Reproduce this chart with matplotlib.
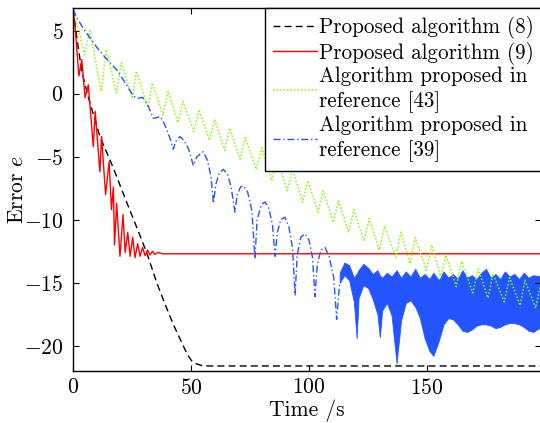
import numpy as np
import matplotlib
matplotlib.use("Agg")
import matplotlib.pyplot as plt

plt.rcParams.update({"font.family": "serif", "font.serif": ["cmr10"],
    "mathtext.fontset": "cm", "axes.formatter.use_mathtext": True,
    "font.size": 15.5, "axes.unicode_minus": True})

RED = "#FF0000"; BLUE = "#2255FF"; GREEN = "#7FFF00"

# proposed algorithm (8) - black dashed
t8 = [0, 1.8, 3.7, 6.5, 11.4, 17.1, 22.7, 27, 31.2, 35.5, 39, 42.5, 46.7, 48.5, 50.3, 52.5, 55.2, 198.3]
e8 = [6.7, 4.2, 1.8, -0.3, -3.4, -5.9, -8.6, -10.6, -12.6, -15.0, -16.7, -18.3, -20.0, -20.7, -21.2, -21.45, -21.6, -21.6]

# proposed algorithm (9) - red
t9 = [0, 0.8, 2.5, 3.7, 5.1, 6.5, 8.6, 9.4, 11.4, 12.1, 13.8, 15.3, 16.3, 17.1, 17.6, 18.5, 19.9, 21.2, 22.1,
      23.2, 24.2, 25.3, 26.3, 27.4, 28.4, 29.5, 30.5, 31.6, 32.6, 33.7, 34.7, 36, 38, 198.3]
e9 = [6.7, 5.5, 1.4, 2.7, -0.3, 0.7, -4.2, -1.4, -6.2, -3.4, -8.0, -5.4, -9.2, -7.4, -12.0, -8.7, -12.9, -9.6, -12.6,
      -11.0, -12.9, -11.4, -13.0, -11.9, -12.9, -12.2, -12.85, -12.4, -12.8, -12.5, -12.75, -12.6, -12.7, -12.7]

# reference [43] - green dotted (peaks and troughs)
t43 = [0, 1.0, 4.9, 7.1, 12.0, 14.1, 18.4, 20.5, 25.2, 26.8, 31.8, 33.6, 38.1, 40.3, 44.5, 46.6, 51.2, 53.4,
       57.8, 60.0, 64.3, 66.4, 70.8, 73.0, 77.6, 80.0, 84.2, 86.5, 90.8, 93.0, 97.3, 99.5, 103.8, 106.0,
       110.3, 112.5, 116.8, 119.0, 123.3, 125.5, 129.8, 132.0, 136.7, 139.0, 142.8, 145.0, 149.7, 152.0,
       155.8, 158.0, 162.4, 164.7, 169.4, 171.7, 175.8, 178.0, 182.7, 185.0, 189.5, 191.5, 196.0, 198.3]
e43 = [6.7, 6.0, 3.1, 5.0, 0.2, 3.5, 0.07, 2.45, -0.4, 1.8, -1.1, 0.86, -1.7, 0.2, -2.3, -0.6, -3.0, -1.26,
       -3.7, -2.05, -4.5, -2.72, -5.2, -3.5, -6.0, -4.3, -6.9, -5.1, -7.7, -6.0, -8.6, -6.9, -9.4, -7.7,
       -10.2, -8.5, -11.0, -9.2, -11.7, -9.9, -12.4, -10.5, -13.0, -11.0, -13.5, -11.4, -14.0, -12.0,
       -14.6, -12.8, -15.3, -13.3, -15.8, -13.9, -16.2, -14.3, -16.5, -14.6, -16.8, -14.8, -17.0, -15.0]

# reference [39] - blue dash-dot part
t39 = [0, 2, 5, 10, 14, 18.5, 22, 25.6, 27.5, 29.5, 31.5, 34, 35.5, 37, 39, 41, 42.5, 43.5, 45.3, 47, 49, 51,
       52.5, 55.2, 57, 58.5, 59.5, 60.5, 62, 63.7, 65.5, 67, 68.6, 69.6, 71, 72.2, 74, 75.8, 77.1, 78, 79.8,
       81.4, 83, 84.5, 85.6, 86.6, 88, 89.8, 91.5, 93, 94.1, 95, 96.5, 98.3, 100, 101.5, 102.5, 103.5, 105,
       106.8, 108.5, 110.5, 111.7, 113]
e39 = [6.7, 5.9, 5.0, 3.7, 2.8, 1.9, 0.9, -0.2, -0.35, -0.3, -0.8, -1.95, -1.9, -1.8, -2.5, -3.5, -4.4, -3.8,
       -3.4, -3.7, -4.4, -5.7, -5.0, -4.6, -5.3, -6.6, -8.7, -7.2, -6.3, -6.0, -6.4, -7.4, -9.4, -8.0, -7.4,
       -7.3, -7.8, -9.3, -13.1, -10.0, -8.8, -8.6, -9.1, -10.4, -12.9, -11.0, -10.0, -9.8, -10.6, -12.2,
       -16.0, -12.8, -11.4, -11.1, -11.6, -13.0, -16.1, -13.6, -12.4, -12.2, -12.9, -14.6, -17.9, -15.0]

# reference [39] - dense oscillation band
tb = [113, 115, 117, 119, 120.2, 121, 123, 125, 127, 129, 130, 131, 133, 135, 137.1, 139, 141, 143, 145, 147,
      149, 151, 152.7, 155, 157, 159, 161, 163, 165, 167, 169, 171, 173, 175, 177, 179, 181, 183, 185, 187,
      189, 191, 193, 195, 198.3]
b_hi = [-14.2, -13.4, -13.6, -14.6, -14.3, -14.0, -13.5, -13.8, -14.3, -14.0, -14.4, -14.6, -14.2, -14.5,
        -14.0, -14.6, -14.1, -14.5, -13.9, -14.6, -14.3, -14.7, -14.2, -14.8, -14.1, -14.6, -14.3, -14.7,
        -14.0, -14.6, -14.4, -14.7, -14.2, -13.9, -14.6, -14.3, -14.7, -14.1, -14.5, -14.3, -14.7, -14.2,
        -14.6, -14.4, -14.5]
b_lo = [-15.0, -14.4, -14.8, -16.5, -19.4, -16.2, -15.2, -15.4, -16.3, -17.5, -19.3, -17.2, -16.6, -17.6,
        -21.4, -18.0, -16.6, -16.4, -16.9, -17.8, -19.4, -20.4, -20.8, -19.6, -18.3, -17.8, -17.9, -18.3,
        -18.8, -18.9, -18.7, -18.4, -18.3, -18.3, -18.4, -18.6, -18.5, -18.3, -18.2, -18.2, -18.3, -18.5,
        -18.8, -18.9, -18.5]

fig = plt.figure(figsize=(5.4, 4.23), dpi=100)
ax = fig.add_axes([73/540, 52/423, 468/540, 363/423])

l8, = ax.plot(t8, e8, color="black", lw=1.0, ls=(0, (5, 3)), label="Proposed algorithm (8)")
l9, = ax.plot(t9, e9, color=RED, lw=1.0, label="Proposed algorithm (9)")
l43, = ax.plot(t43, e43, color=GREEN, lw=1.1, ls=(0, (1, 1.3)), label="Algorithm proposed in\nreference [43]")
l39, = ax.plot(t39, e39, color=BLUE, lw=1.0, ls=(0, (5, 2, 1, 2)), label="Algorithm proposed in\nreference [39]")
ax.fill_between(tb, b_lo, b_hi, color=BLUE, lw=0.6, edgecolor=BLUE)

ax.set_xlim(0, 198.3)
ax.set_ylim(-22, 6.8)
ax.set_xticks([0, 50, 100, 150])
ax.set_yticks([-20, -15, -10, -5, 0, 5])
ax.tick_params(direction="in", top=True, right=True, length=4, width=0.8, labelsize=15.5)
ax.tick_params(axis="y", pad=7)
ax.tick_params(axis="x", pad=5)
for s in ax.spines.values():
    s.set_linewidth(1.0)
ax.set_xlabel("Time /s", fontsize=15.5, labelpad=1)
ax.set_ylabel("Error $e$", fontsize=15.5)
ax.yaxis.set_label_coords(-0.098, 0.5)

leg = ax.legend(handles=[l8, l9, l43, l39], loc="upper left", bbox_to_anchor=(192/468, 1.0),
                borderaxespad=0, fontsize=15.2, frameon=True, fancybox=False, framealpha=1,
                edgecolor="black", handlelength=2.05, handletextpad=0.1, borderpad=0.4,
                labelspacing=0.1)
for txt in leg.get_texts():
    txt.set_linespacing(1.34)
leg.get_frame().set_linewidth(1.0)

fig.savefig("out.png", dpi=100)
